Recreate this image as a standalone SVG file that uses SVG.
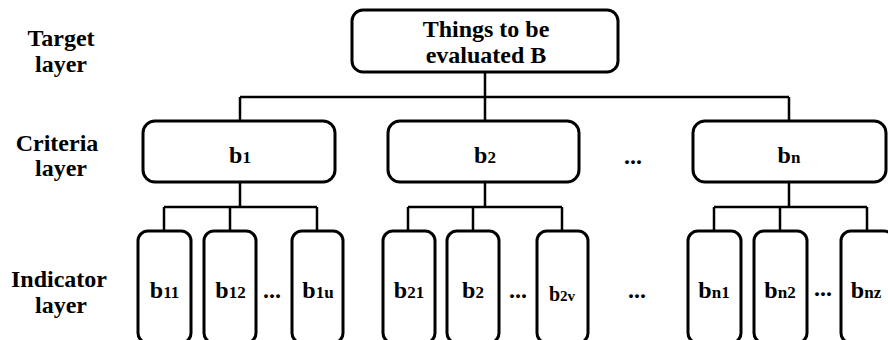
<svg xmlns="http://www.w3.org/2000/svg" width="888" height="340" viewBox="0 0 888 340">
  <style>
    .box { fill: #fff; stroke: #000; stroke-width: 3; }
    .wire { fill: none; stroke: #000; stroke-width: 2.5; }
    text { font-family: "Times New Roman", "Liberation Serif", "DejaVu Serif", serif; font-weight: 700; fill: #000; font-size: 24px; text-anchor: middle; }
    .sub { font-size: 17px; }
  </style>
  <rect width="888" height="340" fill="#fff"/>

  <!-- layer labels -->
  <g id="labels">
    <text x="61" y="46">Target</text>
    <text x="61" y="72">layer</text>
    <text x="57" y="151">Criteria</text>
    <text x="61" y="176">layer</text>
    <text x="59" y="287">Indicator</text>
    <text x="61" y="313">layer</text>
  </g>

  <!-- connectors -->
  <g id="connectors">
    <path class="wire" d="M485 72 V97 M240 97 H789 M240 97 V121 M485 97 V121 M789 97 V121"/>
    <path class="wire" d="M240 182 V207 M164 207 H317 M164 207 V231 M230 207 V231 M317 207 V231"/>
    <path class="wire" d="M485 182 V207 M408 207 H562 M408 207 V231 M473 207 V231 M562 207 V231"/>
    <path class="wire" d="M789 182 V207 M714 207 H867 M714 207 V231 M780 207 V231 M867 207 V231"/>
  </g>

  <!-- target -->
  <g id="target">
    <rect class="box" x="352" y="10" width="266" height="62" rx="11"/>
    <text x="486" y="37">Things to be</text>
    <text x="486" y="63">evaluated B</text>
  </g>

  <!-- criteria -->
  <g id="crit-b1">
    <rect class="box" x="143" y="121" width="192" height="61" rx="12"/>
    <text x="240" y="163">b<tspan class="sub">1</tspan></text>
  </g>
  <g id="crit-b2">
    <rect class="box" x="388" y="121" width="191" height="61" rx="12"/>
    <text x="485" y="163">b<tspan class="sub">2</tspan></text>
  </g>
  <text x="633" y="164">...</text>
  <g id="crit-bn">
    <rect class="box" x="693" y="121" width="193" height="61" rx="12"/>
    <text x="789" y="163">b<tspan class="sub">n</tspan></text>
  </g>

  <!-- indicators -->
  <g id="ind-b11">
    <rect class="box" x="138" y="231" width="53" height="112" rx="10"/>
    <text x="164.5" y="298">b<tspan class="sub">11</tspan></text>
  </g>
  <g id="ind-b12">
    <rect class="box" x="204" y="231" width="52" height="112" rx="10"/>
    <text x="230.5" y="298">b<tspan class="sub">12</tspan></text>
  </g>
  <text x="272" y="298">...</text>
  <g id="ind-b1u">
    <rect class="box" x="292" y="231" width="51" height="112" rx="10"/>
    <text x="318" y="298">b<tspan class="sub">1u</tspan></text>
  </g>

  <g id="ind-b21">
    <rect class="box" x="383" y="231" width="52" height="112" rx="10"/>
    <text x="409" y="298">b<tspan class="sub">21</tspan></text>
  </g>
  <g id="ind-b2">
    <rect class="box" x="447" y="231" width="52" height="112" rx="10"/>
    <text x="473" y="298">b<tspan class="sub">2</tspan></text>
  </g>
  <text x="518" y="298">...</text>
  <g id="ind-b2v">
    <rect class="box" x="537" y="231" width="51" height="112" rx="10"/>
    <text x="562" y="301" style="font-size:20px">b<tspan style="font-size:15px">2v</tspan></text>
  </g>

  <text x="637" y="298">...</text>

  <g id="ind-bn1">
    <rect class="box" x="688" y="231" width="53" height="112" rx="10"/>
    <text x="714" y="298">b<tspan class="sub">n1</tspan></text>
  </g>
  <g id="ind-bn2">
    <rect class="box" x="754" y="231" width="53" height="112" rx="10"/>
    <text x="780" y="298">b<tspan class="sub">n2</tspan></text>
  </g>
  <text x="823" y="296">...</text>
  <g id="ind-bnz">
    <rect class="box" x="841" y="231" width="53" height="112" rx="10"/>
    <text x="866" y="298">b<tspan class="sub">nz</tspan></text>
  </g>
</svg>
